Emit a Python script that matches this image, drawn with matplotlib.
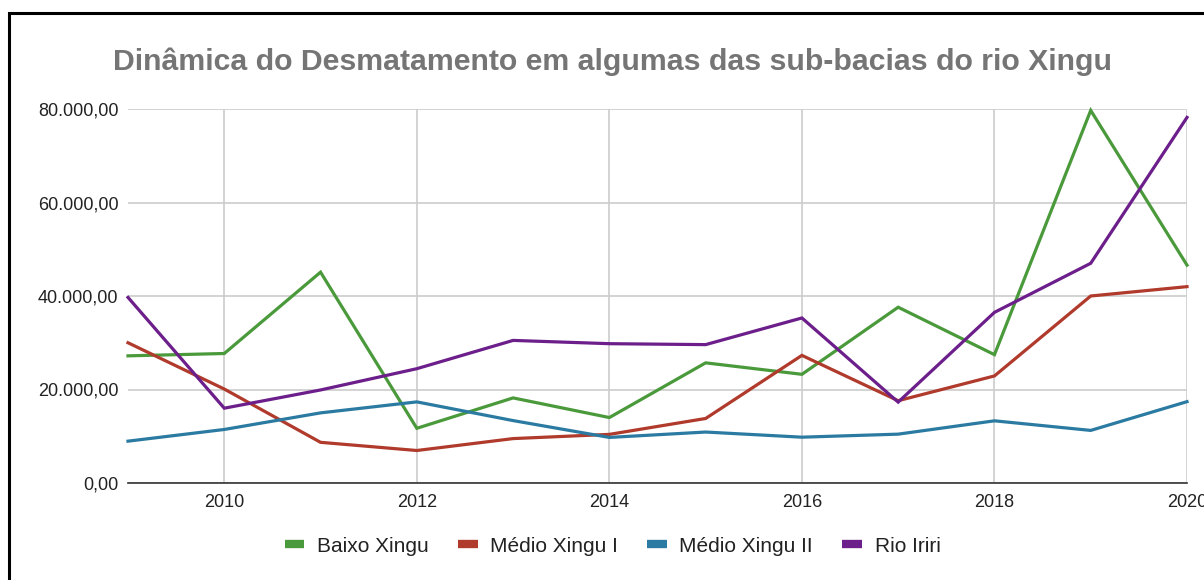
import matplotlib
matplotlib.use("Agg")
import matplotlib.pyplot as plt
from matplotlib.lines import Line2D
from matplotlib.ticker import FuncFormatter

years = [2009, 2010, 2011, 2012, 2013, 2014, 2015, 2016, 2017, 2018, 2019, 2020]
baixo_xingu = [27200, 27700, 45100, 11700, 18200, 14000, 25700, 23250, 37600, 27450, 79700, 46600]
medio_xingu_i = [30000, 20100, 8700, 6950, 9500, 10400, 13800, 27300, 17600, 22900, 40000, 42000]
medio_xingu_ii = [8950, 11450, 15000, 17350, 13350, 9750, 10900, 9800, 10450, 13300, 11250, 17400]
rio_iriri = [39700, 16000, 19900, 24450, 30500, 29800, 29600, 35300, 17300, 36500, 47000, 78200]

series_names = ["Baixo Xingu", "Médio Xingu I", "Médio Xingu II", "Rio Iriri"]
colors = ["#4a9a3b", "#b03a2b", "#2b7aa2", "#6c1e8a"]
y_ticks = [0, 20000, 40000, 60000, 80000]
x_ticks = [2010, 2012, 2014, 2016, 2018, 2020]

plt.rcParams['font.family'] = ['Liberation Sans', 'DejaVu Sans']

W, H = 1204, 580
fig = plt.figure(figsize=(W / 100, H / 100), dpi=100)
fig.patch.set_facecolor("white")

# outer black border (cropped on right/bottom)
border = plt.Rectangle((9 / W, -0.05), 1.2, 1 - 13 / H + 0.05, transform=fig.transFigure,
                       fill=False, edgecolor="black", linewidth=2.2)
fig.patches.append(border)

left, right = 128 / W, 1187 / W
bottom, top = 1 - 483 / H, 1 - 109 / H
ax = fig.add_axes([left, bottom, right - left, top - bottom])

for vals, c in zip([baixo_xingu, medio_xingu_i, medio_xingu_ii, rio_iriri], colors):
    ax.plot(years, vals, color=c, linewidth=2.3, solid_joinstyle="miter", zorder=3, clip_on=False)

ax.set_xlim(2009, 2020)
ax.set_ylim(0, 80000)
ax.set_yticks(y_ticks)
ax.set_xticks(x_ticks)

def fmt(v, pos):
    s = f"{v:,.2f}"
    return s.replace(",", "X").replace(".", ",").replace("X", ".")

ax.yaxis.set_major_formatter(FuncFormatter(fmt))
ax.grid(True, color="#cccccc", linewidth=1.2, zorder=0)
for s in ["top", "right", "left"]:
    ax.spines[s].set_visible(False)
ax.spines["bottom"].set_color("#333333")
ax.spines["bottom"].set_linewidth(1.2)
ax.spines["bottom"].set_zorder(4)
ax.tick_params(axis="both", length=0, labelsize=13, labelcolor="#222222")
ax.tick_params(axis="y", pad=7)
ax.tick_params(axis="x", pad=8)

fig.text(0.5 * (112 + 1113) / W, 1 - 62 / H,
         "Dinâmica do Desmatamento em algumas das sub-bacias do rio Xingu",
         ha="center", va="center", fontsize=21.8, fontweight="bold", color="#757575")

handles = [Line2D([0], [0], color=c, linewidth=6, solid_capstyle="butt") for c in colors]
leg = fig.legend(handles, series_names, loc="center", bbox_to_anchor=(0.5 * (287 + 938) / W, 1 - 546 / H),
                 ncol=4, frameon=False, fontsize=15, handlelength=0.95, handletextpad=0.6,
                 columnspacing=1.4)
for t in leg.get_texts():
    t.set_color("#222222")

fig.savefig("out.png", dpi=100, facecolor="white")
